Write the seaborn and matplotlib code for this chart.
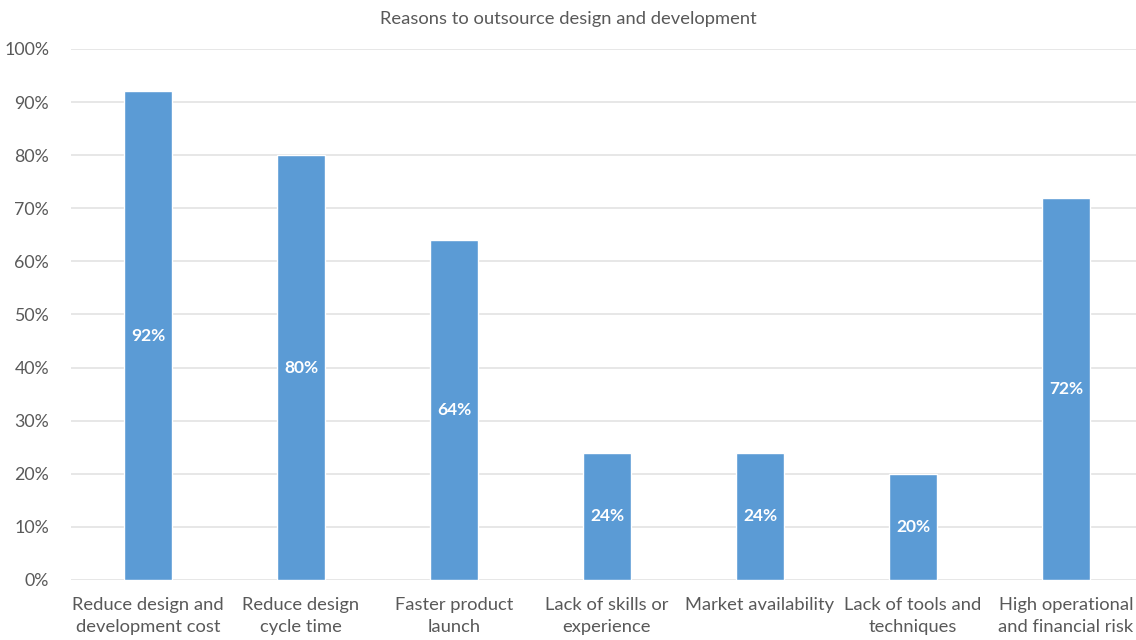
import matplotlib
matplotlib.use("Agg")
import matplotlib.pyplot as plt
import seaborn as sns
import pandas as pd

categories = [
    "Reduce design and\ndevelopment cost",
    "Reduce design\ncycle time",
    "Faster product\nlaunch",
    "Lack of skills or\nexperience",
    "Market availability",
    "Lack of tools and\ntechniques",
    "High operational\nand financial risk",
]
values = [92, 80, 64, 24, 24, 20, 72]
yticks = [0, 10, 20, 30, 40, 50, 60, 70, 80, 90, 100]
title = "Reasons to outsource design and development"

sns.set_theme(style="white")
plt.rcParams["font.family"] = ["Lato", "DejaVu Sans"]

text_color = "#595959"
bar_color = "#5B9BD5"

df = pd.DataFrame({"reason": categories, "share": values})

fig = plt.figure(figsize=(11.36, 6.4), dpi=100)
ax = fig.add_axes([0.0629, 0.09375, 0.9428, 0.8297])

sns.barplot(data=df, x="reason", y="share", color=bar_color, width=0.31,
            saturation=1, ax=ax, zorder=3)

ax.set_ylim(0, 100)
ax.set_xlim(-0.5, len(categories) - 0.5)
ax.set_yticks(yticks)
ax.set_yticklabels([f"{t}%" for t in yticks])
ax.yaxis.grid(True, color="#E3E3E3", linewidth=1.2, zorder=0)
ax.set_axisbelow(True)
for s in ax.spines.values():
    s.set_visible(False)
ax.tick_params(axis="y", length=0, colors=text_color, labelsize=12.8, pad=16)
ax.tick_params(axis="x", length=0, colors=text_color, labelsize=13.2, pad=12)
ax.set_xlabel("")
ax.set_ylabel("")
for lbl in ax.get_xticklabels():
    lbl.set_linespacing(1.45)

for patch, v in zip(ax.patches, values):
    ax.text(patch.get_x() + patch.get_width() / 2, v / 2, f"{v}%",
            ha="center", va="center", color="white", fontsize=12.5,
            fontweight="bold", zorder=4)

fig.text(0.5, 0.971, title, ha="center", va="center", color=text_color, fontsize=13.2)

fig.savefig("out.png", dpi=100, facecolor="white")
